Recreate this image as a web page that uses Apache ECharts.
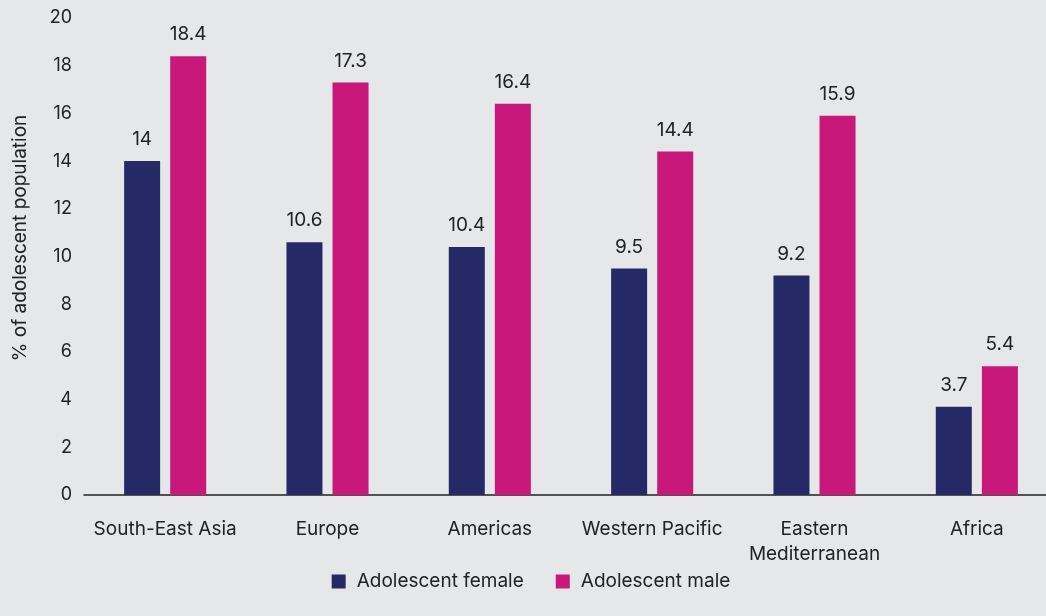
<!DOCTYPE html>
<html>
<head>
<meta charset="utf-8">
<script src="https://cdn.jsdelivr.net/npm/echarts@6/dist/echarts.min.js"></script>
<style>
  html, body { margin: 0; padding: 0; background: #e6e7e9; overflow: hidden; }
  #chart { width: 1062px; height: 616px; }
</style>
</head>
<body>
<div id="chart"></div>
<script>
// Regions along the category axis
const regions = ['South-East Asia', 'Europe', 'Americas', 'Western Pacific', 'Eastern\nMediterranean', 'Africa'];
// Share of adolescent population (%)
const femaleValues = [14, 10.6, 10.4, 9.5, 9.2, 3.7];
const maleValues = [18.4, 17.3, 16.4, 14.4, 15.9, 5.4];
const seriesNames = ['Adolescent female', 'Adolescent male'];
const yAxisTitle = '% of adolescent population';

const FONT = 'Inter, "Noto Sans", sans-serif';
const TEXT = '#222222';

const chart = echarts.init(document.getElementById('chart'));
chart.setOption({
  backgroundColor: '#e6e7e9',
  animation: false,
  textStyle: { fontFamily: FONT, color: TEXT },
  grid: { left: 84, top: 18, width: 974, height: 477, containLabel: false, outerBoundsMode: 'none' },
  // Vertical title beside the value axis
  graphic: [{
    type: 'text',
    x: 20,
    y: 238,
    rotation: Math.PI / 2,
    style: {
      text: yAxisTitle,
      fontFamily: FONT,
      fontSize: 19,
      fill: TEXT,
      align: 'center',
      verticalAlign: 'middle'
    }
  }],
  legend: {
    data: seriesNames,
    bottom: 20,
    left: 'center',
    itemWidth: 14,
    itemHeight: 14,
    itemGap: 32,
    icon: 'rect',
    textStyle: { fontFamily: FONT, fontSize: 19, color: TEXT, padding: [0, 0, 0, 6] }
  },
  xAxis: {
    type: 'category',
    data: regions,
    axisLine: { lineStyle: { color: '#222222', width: 1.5 } },
    axisTick: { show: false },
    axisLabel: { fontFamily: FONT, fontSize: 19, color: TEXT, margin: 22, lineHeight: 25, interval: 0 }
  },
  yAxis: {
    type: 'value',
    min: 0,
    max: 20,
    interval: 2,
    axisLine: { show: false },
    axisTick: { show: false },
    splitLine: { show: false },
    axisLabel: { fontFamily: FONT, fontSize: 18, color: TEXT, margin: 12 }
  },
  series: [
    {
      name: seriesNames[0],
      type: 'bar',
      data: femaleValues,
      barWidth: 36,
      barGap: '28%',
      itemStyle: { color: '#252a67' },
      label: { show: true, position: 'top', distance: 12, fontFamily: FONT, fontSize: 19, color: TEXT }
    },
    {
      name: seriesNames[1],
      type: 'bar',
      data: maleValues,
      barWidth: 36,
      barGap: '28%',
      itemStyle: { color: '#c8187a' },
      label: { show: true, position: 'top', distance: 12, fontFamily: FONT, fontSize: 19, color: TEXT }
    }
  ]
});
</script>
</body>
</html>
